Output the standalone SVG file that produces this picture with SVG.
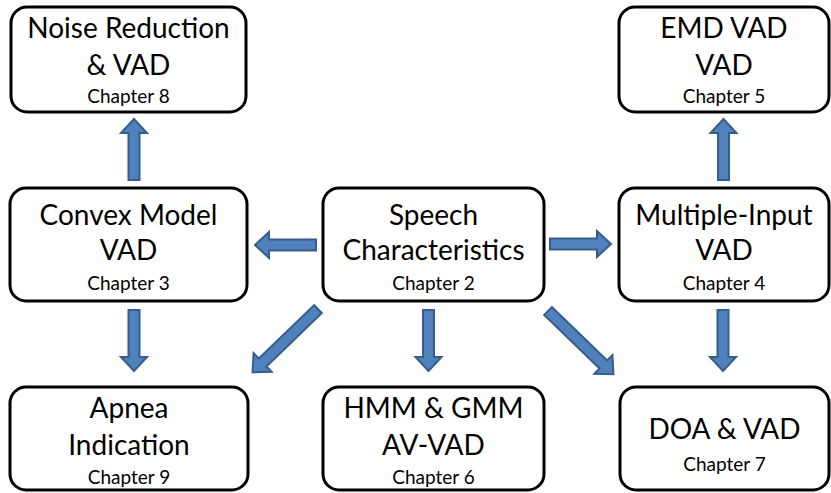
<svg xmlns="http://www.w3.org/2000/svg" width="831" height="493" viewBox="0 0 831 493">
<defs>
<style>
.box{fill:#fff;stroke:#000;stroke-width:3}
.t{font-family:Lato,"Open Sans","Liberation Sans",sans-serif;font-size:28px;fill:#000;text-anchor:middle}
.c{font-family:Lato,"Open Sans","Liberation Sans",sans-serif;font-size:19px;fill:#000;text-anchor:middle}
.arr{fill:#4f81bd;stroke:#385d8a;stroke-width:2;stroke-linejoin:miter}
</style>
<path id="short" d="M0,-5.5 H47 V-13 L61,0 L47,13 V5.5 H0 Z"/>
<path id="long" d="M0,-5.5 H77 V-13 L91,0 L77,13 V5.5 H0 Z"/>
</defs>
<rect width="831" height="493" fill="#fff"/>
<g id="connectors">
<use href="#short" class="arr" transform="translate(316,245) rotate(180)"/>
<use href="#short" class="arr" transform="translate(550,244)"/>
<use href="#short" class="arr" transform="translate(134,180) rotate(-90)"/>
<use href="#short" class="arr" transform="translate(723.5,180) rotate(-90)"/>
<use href="#short" class="arr" transform="translate(134,310) rotate(90)"/>
<use href="#short" class="arr" transform="translate(428.5,310) rotate(90)"/>
<use href="#short" class="arr" transform="translate(723,310) rotate(90)"/>
<use href="#long" class="arr" transform="translate(318,309) rotate(136)"/>
<use href="#long" class="arr" transform="translate(548,311) rotate(44)"/>
</g>
<g id="noise">
<rect class="box" x="11" y="7" width="235" height="105" rx="16"/>
<text class="t" x="128.5" y="38">Noise Reduction</text>
<text class="t" x="128.5" y="75">&amp; VAD</text>
<text class="c" x="128.5" y="103">Chapter 8</text>
</g>
<g id="emd">
<rect class="box" x="619" y="7" width="210" height="105" rx="16"/>
<text class="t" x="724" y="38">EMD VAD</text>
<text class="t" x="724" y="75">VAD</text>
<text class="c" x="724" y="103">Chapter 5</text>
</g>
<g id="convex">
<rect class="box" x="10" y="188" width="237" height="113" rx="16"/>
<text class="t" x="128.5" y="225">Convex Model</text>
<text class="t" x="128.5" y="260">VAD</text>
<text class="c" x="128.5" y="290">Chapter 3</text>
</g>
<g id="speech">
<rect class="box" x="323" y="188" width="221" height="113" rx="16"/>
<text class="t" x="433.5" y="225">Speech</text>
<text class="t" x="433.5" y="260">Characteristics</text>
<text class="c" x="433.5" y="290">Chapter 2</text>
</g>
<g id="multi">
<rect class="box" x="619" y="188" width="210" height="113" rx="16"/>
<text class="t" x="724" y="225">Multiple-Input</text>
<text class="t" x="724" y="260">VAD</text>
<text class="c" x="724" y="290">Chapter 4</text>
</g>
<g id="apnea">
<rect class="box" x="10" y="387" width="238" height="103" rx="16"/>
<text class="t" x="129" y="418">Apnea</text>
<text class="t" x="129" y="455">Indication</text>
<text class="c" x="129" y="484">Chapter 9</text>
</g>
<g id="hmm">
<rect class="box" x="323" y="387" width="221" height="103" rx="16"/>
<text class="t" x="433.5" y="418">HMM &amp; GMM</text>
<text class="t" x="433.5" y="455">AV-VAD</text>
<text class="c" x="433.5" y="484">Chapter 6</text>
</g>
<g id="doa">
<rect class="box" x="620" y="387" width="209" height="103" rx="16"/>
<text class="t" x="724.5" y="439">DOA &amp; VAD</text>
<text class="c" x="724.5" y="471">Chapter 7</text>
</g>
</svg>
